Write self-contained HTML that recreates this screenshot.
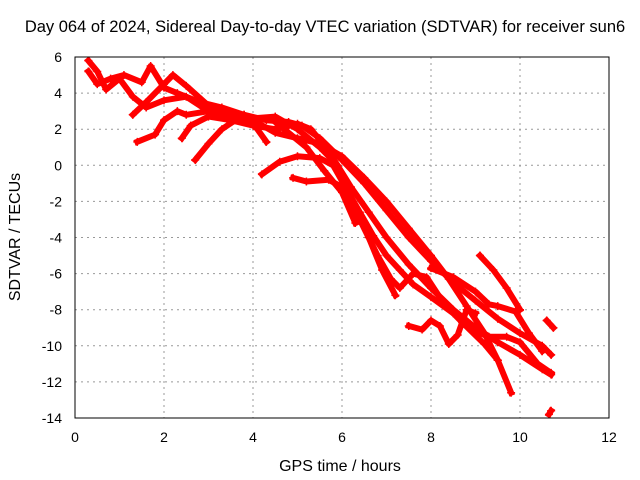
<!DOCTYPE html>
<html><head><meta charset="utf-8"><style>
body{margin:0;background:#fff}
svg{display:block;font-family:"Liberation Sans",sans-serif}
</style></head><body>
<svg id="c" width="640" height="480">
<text x="325" y="32" font-size="16.5" text-anchor="middle">Day 064 of 2024, Sidereal Day-to-day VTEC variation (SDTVAR) for receiver sun6</text>
<text x="340" y="471" font-size="16" text-anchor="middle">GPS time / hours</text>
<text transform="translate(20,237) rotate(-90)" font-size="16" text-anchor="middle">SDTVAR / TECUs</text>
<g id="grid"></g><g id="marks"></g>
<rect x="75" y="57" width="534" height="361" fill="none" stroke="#000"/>
</svg>
<script>
const xTicks=[0,2,4,6,8,10,12];
const yTicks=[6,4,2,0,-2,-4,-6,-8,-10,-12,-14];
const trackA=[[0.3,5.2],[0.5,4.5],[0.8,4.8],[1.1,5.0],[1.5,4.6],[1.7,5.5],[2.0,4.3],[2.3,4.0],[2.8,3.5],[3.3,3.2],[3.8,2.8],[4.3,2.5],[4.8,2.4],[5.1,2.2],[5.5,1.5],[6.0,0.3],[6.5,-1.0],[7.0,-2.5],[7.5,-4.0],[8.0,-5.3],[8.5,-6.5],[9.0,-7.5],[9.5,-8.5],[10.0,-9.3],[10.5,-10.0],[10.7,-10.5]];
const trackB=[[0.3,5.8],[0.5,5.2],[0.7,4.2],[1.0,4.8],[1.3,3.8],[1.6,3.2],[2.0,3.6],[2.5,3.8],[3.0,3.0],[3.5,2.5],[4.0,2.2],[4.5,2.0],[5.0,2.3],[5.3,2.0],[5.7,0.8],[6.2,-1.2],[6.6,-2.6],[7.0,-4.0],[7.5,-5.5],[8.0,-6.8],[8.5,-8.0],[9.0,-9.0],[9.5,-9.8],[10.0,-10.5],[10.5,-11.3],[10.7,-11.6]];
const trackC=[[1.3,2.8],[1.6,3.5],[2.0,4.5],[2.2,5.0],[2.5,4.4],[3.0,3.3],[3.5,2.7],[4.0,2.6],[4.5,2.7],[5.0,2.0],[5.5,1.0],[5.9,0],[6.3,-2.5],[6.6,-4.0],[6.9,-5.8],[7.2,-7.2]];
const trackD=[[1.4,1.3],[1.8,1.7],[2.0,2.5],[2.3,3.0],[2.5,2.8],[3.0,3.0],[3.5,2.9],[3.8,2.8],[4.1,2.0],[4.3,1.3]];
const trackE=[[2.4,1.5],[2.6,2.2],[3.0,2.7],[3.5,2.5],[4.0,2.6],[4.4,2.6],[4.8,1.8],[5.2,1.0],[5.6,-0.3],[6.0,-1.5],[6.3,-3.2]];
const trackF=[[2.7,0.3],[3.0,1.2],[3.3,2.0],[3.6,2.5],[4.0,2.5],[4.5,1.8],[5.0,1.5],[5.5,1.2],[6.0,0.5],[6.5,-0.7],[7.0,-2.0],[7.5,-3.5],[8.0,-5.0],[8.4,-6.3],[8.8,-7.8],[9.2,-9.3],[9.5,-10.8],[9.8,-12.6]];
const trackG=[[4.2,-0.5],[4.6,0.2],[5.0,0.5],[5.5,0.4],[5.8,0],[6.1,-1.3],[6.4,-2.6],[6.7,-3.9],[7.0,-5.0],[7.3,-5.8],[7.6,-6.6],[8.0,-7.3],[8.5,-8.2],[9.0,-9.2],[9.3,-9.5],[9.7,-9.5],[10.0,-9.8],[10.4,-11.0],[10.7,-11.5]];
const trackH=[[4.9,-0.7],[5.2,-0.9],[5.7,-0.8],[6.0,-1.2],[6.4,-3.0],[6.8,-5.0],[7.1,-6.3],[7.3,-6.8],[7.6,-6.0],[7.9,-6.2],[8.3,-7.7],[8.7,-8.7],[9.2,-9.9],[9.5,-10.8]];
const trackI=[[7.5,-8.9],[7.8,-9.1],[8.0,-8.6],[8.2,-8.9],[8.4,-9.9],[8.6,-9.4],[8.8,-8.0],[9.0,-8.2]];
const trackJ=[[8.0,-5.7],[8.5,-6.2],[9.0,-7.0],[9.3,-7.7],[9.5,-7.8],[9.9,-8.1],[10.2,-9.3],[10.5,-10.3]];
const trackK=[[9.1,-5.0],[9.4,-5.8],[9.7,-6.8],[10.0,-8.0]];
const trackL=[[10.6,-8.6],[10.75,-9.0]];
const trackM=[[10.65,-13.8],[10.7,-13.6]];
const tracks=[trackA,trackB,trackC,trackD,trackE,trackF,trackG,trackH,trackI,trackJ,trackK,trackL,trackM];
const X=v=>75+v*534/12, Y=v=>57+(6-v)*361/20;
const NS="http://www.w3.org/2000/svg";
const svg=document.getElementById('c'),grid=document.getElementById('grid'),marks=document.getElementById('marks');
function mk(t,a,p){const e=document.createElementNS(NS,t);for(const k in a)e.setAttribute(k,a[k]);p.appendChild(e);return e;}
xTicks.forEach(v=>{
 if(v>0&&v<12){const l=mk('line',{x1:X(v),x2:X(v),y1:57,y2:418,stroke:'#999','stroke-dasharray':'2,4'},grid);
 
 }
 const t=mk('text',{x:X(v),y:442,'font-size':14,'text-anchor':'middle'},svg);t.textContent=v;
 
 
});
yTicks.forEach(v=>{
 if(v<6&&v>-14){const l=mk('line',{x1:75,x2:609,y1:Y(v),y2:Y(v),stroke:'#999','stroke-dasharray':'2,4'},grid);
 
 }
 const t=mk('text',{x:62,y:Y(v)+5,'font-size':14,'text-anchor':'end'},svg);t.textContent=v;
 
 
});
tracks.forEach(tr=>{
 const d=tr.map((p,i)=>(i?'L':'M')+X(p[0]).toFixed(1)+','+Y(p[1]).toFixed(1)).join('');
 const p=mk('path',{d:d,fill:'none',stroke:'#f00','stroke-width':6,'stroke-linejoin':'round','stroke-linecap':'square'},marks);
 
 
 tr.forEach(q=>{const cx=X(q[0]),cy=Y(q[1]);
  const m=mk('path',{d:`M${cx-4},${cy}h8M${cx},${cy-4}v8`,stroke:'#f00','stroke-width':1.5},marks);
  
  });
});
</script>
</body></html>
